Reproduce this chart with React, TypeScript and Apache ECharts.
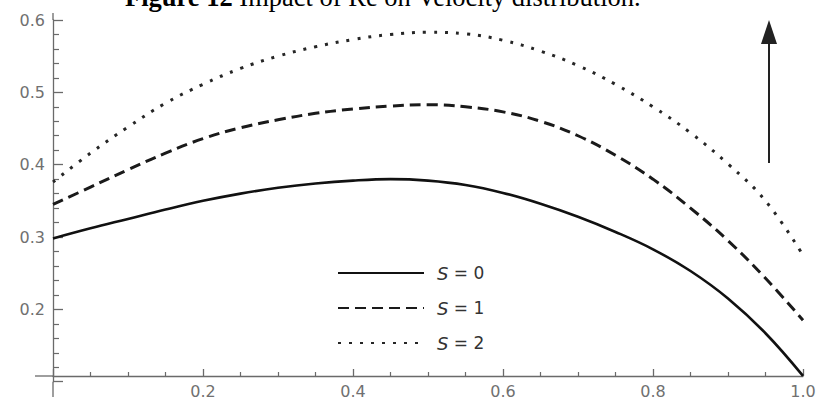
import React, { useEffect, useRef } from "react";
import * as echarts from "echarts";

const xValues = [0, 0.05, 0.1, 0.15, 0.2, 0.25, 0.3, 0.35, 0.4, 0.45, 0.5, 0.55, 0.6, 0.65, 0.7, 0.75, 0.8, 0.85, 0.9, 0.95, 1.0];
const s0Values = [0.298, 0.312, 0.325, 0.338, 0.350, 0.360, 0.368, 0.374, 0.378, 0.380, 0.378, 0.372, 0.361, 0.346, 0.328, 0.307, 0.283, 0.253, 0.215, 0.167, 0.108];
const s1Values = [0.345, 0.369, 0.393, 0.416, 0.436, 0.451, 0.462, 0.471, 0.477, 0.481, 0.483, 0.480, 0.473, 0.460, 0.440, 0.413, 0.380, 0.340, 0.295, 0.243, 0.185];
const s2Values = [0.376, 0.416, 0.452, 0.485, 0.511, 0.533, 0.550, 0.563, 0.573, 0.580, 0.583, 0.581, 0.572, 0.557, 0.537, 0.511, 0.480, 0.444, 0.401, 0.350, 0.275];
const seriesNames = ["S = 0", "S = 1", "S = 2"];
const xTickLabels = ["0.2", "0.4", "0.6", "0.8", "1.0"];
const yTickLabels = ["0.2", "0.3", "0.4", "0.5", "0.6"];
const titlePrefix = "Figure 12";
const titleRest = " Impact of Re on Velocity distribution.";

const AXIS_COLOR = "#6a6a6a";
const LABEL_FONT = "DejaVu Sans";

export default function App() {
  const ref = useRef<HTMLDivElement>(null);

  useEffect(() => {
    if (!ref.current) return;
    const chart = echarts.init(ref.current, undefined, { renderer: "svg" });
    const pairs = (ys: number[]) => xValues.map((x, i) => [x, ys[i]]);

    const fmtX = (v: number) => {
      const s = v.toFixed(1);
      return xTickLabels.includes(s) ? s : "";
    };
    const fmtY = (v: number) => {
      const s = v.toFixed(1);
      return yTickLabels.includes(s) ? s : "";
    };

    chart.setOption({
      animation: false,
      backgroundColor: "#ffffff",
      grid: { left: 53, right: 16, top: 20, bottom: 18.3, containLabel: false },
      xAxis: {
        type: "value",
        min: 0,
        max: 1,
        interval: 0.2,
        offset: -5.7,
        axisLine: { show: true, lineStyle: { color: AXIS_COLOR, width: 1.3 } },
        axisTick: { show: true, inside: true, length: 7, lineStyle: { color: AXIS_COLOR, width: 1.3 } },
        minorTick: { show: true, splitNumber: 4, length: 4, lineStyle: { color: AXIS_COLOR, width: 1.2 } },
        splitLine: { show: false },
        axisLabel: {
          showMinLabel: false,
          formatter: fmtX,
          color: "#707070",
          fontFamily: LABEL_FONT,
          fontSize: 16,
          margin: 7,
        },
      },
      yAxis: {
        type: "value",
        min: 0.1,
        max: 0.6,
        interval: 0.1,
        axisLine: { show: true, lineStyle: { color: AXIS_COLOR, width: 1.3 } },
        axisTick: { show: true, inside: true, length: 10, lineStyle: { color: AXIS_COLOR, width: 1.3 } },
        minorTick: { show: true, splitNumber: 5, length: 6, lineStyle: { color: AXIS_COLOR, width: 1.2 } },
        splitLine: { show: false },
        axisLabel: {
          showMinLabel: false,
          formatter: fmtY,
          color: "#707070",
          fontFamily: LABEL_FONT,
          fontSize: 16,
          margin: 8,
        },
      },
      legend: {
        orient: "vertical",
        left: 332,
        top: 259,
        itemWidth: 86,
        itemHeight: 14,
        itemGap: 17,
        data: seriesNames,
        itemStyle: { color: "rgba(0,0,0,0)", borderColor: "rgba(0,0,0,0)", borderWidth: 0, opacity: 0 },
        formatter: (n: string) => "{i|S}" + n.slice(1),
        textStyle: {
          color: "#333333",
          fontFamily: LABEL_FONT,
          fontSize: 17,
          lineHeight: 17,
          rich: {
            i: { fontStyle: "italic", fontFamily: LABEL_FONT, fontSize: 18, color: "#333333", padding: [0, 0, 0, 8] },
          },
        },
      },
      series: [
        {
          name: seriesNames[0],
          type: "line",
          data: pairs(s0Values),
          smooth: 0.4,
          showSymbol: false,
          symbol: "none",
          lineStyle: { color: "#111111", width: 2.6, type: "solid" },
          itemStyle: { color: "#111111" },
        },
        {
          name: seriesNames[1],
          type: "line",
          data: pairs(s1Values),
          smooth: 0.4,
          showSymbol: false,
          symbol: "none",
          lineStyle: { color: "#1a1a1a", width: 3, type: [11, 6] },
          itemStyle: { color: "#1a1a1a" },
        },
        {
          name: seriesNames[2],
          type: "line",
          data: pairs(s2Values),
          smooth: 0.4,
          showSymbol: false,
          symbol: "none",
          lineStyle: { color: "#262626", width: 3, type: [3, 8] },
          itemStyle: { color: "#262626" },
        },
      ],
      graphic: [
        {
          type: "text",
          x: 125,
          y: -3,
          style: {
            text: "{b|" + titlePrefix + "}" + titleRest,
            fill: "#000000",
            fontFamily: "Liberation Serif",
            fontSize: 26.5,
            verticalAlign: "middle",
            align: "left",
            rich: {
              b: { fontWeight: "bold", fontFamily: "Liberation Serif", fontSize: 26.5, fill: "#000000" },
            },
          },
        },
        { type: "line", shape: { x1: 53, y1: 13, x2: 53, y2: 20 }, style: { stroke: AXIS_COLOR, lineWidth: 1.3 } },
        { type: "line", shape: { x1: 53, y1: 381.7, x2: 53, y2: 397 }, style: { stroke: AXIS_COLOR, lineWidth: 1.3 } },
        { type: "line", shape: { x1: 35, y1: 376, x2: 53, y2: 376 }, style: { stroke: AXIS_COLOR, lineWidth: 1.3 } },
        { type: "line", shape: { x1: 769, y1: 163, x2: 769, y2: 40 }, style: { stroke: "#222222", lineWidth: 2 } },
        { type: "polygon", shape: { points: [[769, 20], [761, 44], [777, 44]] }, style: { fill: "#222222" } },
      ],
    });

    return () => chart.dispose();
  }, []);

  return (
    <div
      ref={ref}
      style={{ position: "absolute", left: 0, top: 0, width: 819, height: 400, background: "#fff" }}
    />
  );
}
